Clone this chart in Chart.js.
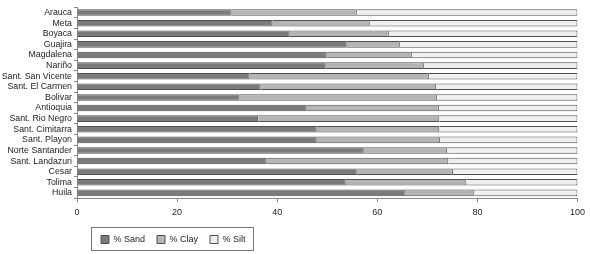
<!DOCTYPE html>
<html>
  <head>
    <meta charset="utf-8">
    <title>Soil texture</title>
    <style>
      body { margin: 0; background: #fff; }
      #wrap { width: 590px; height: 254px; }
    </style>
  </head>
  <body>
    <div id="wrap"><canvas id="soil"></canvas></div>
    <script src="https://cdn.jsdelivr.net/npm/chart.js@4.4.1/dist/chart.umd.min.js"></script>
    <script>
      const regions = ["Arauca", "Meta", "Boyaca", "Guajira", "Magdalena", "Nariño", "Sant. San Vicente",
        "Sant. El Carmen", "Bolivar", "Antioquia", "Sant. Rio Negro", "Sant. Cimitarra", "Sant. Playon",
        "Norte Santander", "Sant. Landazuri", "Cesar", "Tolima", "Huila"]
      const sand = [30.9, 39.1, 42.5, 53.9, 49.9, 49.7, 34.5, 36.7, 32.5, 45.9, 36.2, 47.9, 47.9, 57.3, 37.9, 55.9, 53.7, 65.5]
      const clay = [25.0, 19.4, 19.8, 10.6, 17.0, 19.6, 35.8, 35.0, 39.4, 26.4, 36.2, 24.5, 24.6, 16.6, 36.3, 19.2, 24.1, 13.9]
      const silt = [44.1, 41.5, 37.7, 35.5, 33.1, 30.7, 29.7, 28.3, 28.1, 27.7, 27.6, 27.6, 27.5, 26.1, 25.8, 24.9, 22.2, 20.6]
      const xTicks = [0, 20, 40, 60, 80, 100]

      Chart.defaults.font.family = "'Liberation Sans', Arial, sans-serif"
      Chart.defaults.font.size = 9
      Chart.defaults.color = '#222'

      // move the legend to the right spot and draw its frame
      const legendFrame = {
        id: 'legendFrame',
        afterLayout(chart) {
          const lg = chart.legend
          const w = lg.width
          lg.left = 89
          lg.right = 89 + w
        },
        afterDraw(chart) {
          const boxes = chart.legend.legendHitBoxes
          if (!boxes || !boxes.length) return
          const first = boxes[0], last = boxes[boxes.length - 1]
          const ctx = chart.ctx
          ctx.save()
          ctx.strokeStyle = '#777'
          ctx.lineWidth = 1
          ctx.strokeRect(Math.round(first.left) - 9.5, Math.round(first.top) - 7.5,
            Math.round(last.left + last.width - first.left) + 17, Math.round(first.height) + 14)
          ctx.restore()
        }
      }

      const ctx = document.getElementById('soil').getContext('2d')
      const soilChart = new Chart(ctx, {
        type: 'bar',
        data: {
          labels: regions,
          datasets: [
            { label: '% Sand', data: sand, backgroundColor: '#7a7a7a', borderColor: '#505050', borderWidth: 1 },
            { label: '% Clay', data: clay, backgroundColor: '#b5b5b5', borderColor: '#505050', borderWidth: 1 },
            { label: '% Silt', data: silt, backgroundColor: '#efefef', borderColor: '#505050', borderWidth: 1 }
          ]
        },
        options: {
          indexAxis: 'y',
          responsive: true,
          maintainAspectRatio: false,
          animation: false,
          barPercentage: 0.62,
          categoryPercentage: 1,
          layout: { padding: { top: 3, right: 8, left: 0, bottom: 0 } },
          scales: {
            x: {
              stacked: true,
              min: 0,
              max: 100,
              afterBuildTicks(scale) { scale.ticks = xTicks.map(v => ({ value: v })) },
              grid: { drawOnChartArea: false, drawTicks: true, tickLength: 4, color: '#888' },
              border: { display: true, color: '#888' },
              ticks: { padding: 5, color: '#222' }
            },
            y: {
              stacked: true,
              afterFit(scale) { scale.width = 77 },
              grid: { drawOnChartArea: false, drawTicks: true, tickLength: 3, color: '#888' },
              border: { display: true, color: '#888' },
              ticks: { padding: 2, color: '#222', autoSkip: false, font: { size: 8.8 } }
            }
          },
          plugins: {
            legend: {
              position: 'bottom',
              align: 'start',
              labels: { boxWidth: 8, boxHeight: 8, padding: 12, color: '#222' }
            },
            tooltip: { enabled: false }
          }
        },
        plugins: [legendFrame]
      })
    </script>
  </body>
</html>
